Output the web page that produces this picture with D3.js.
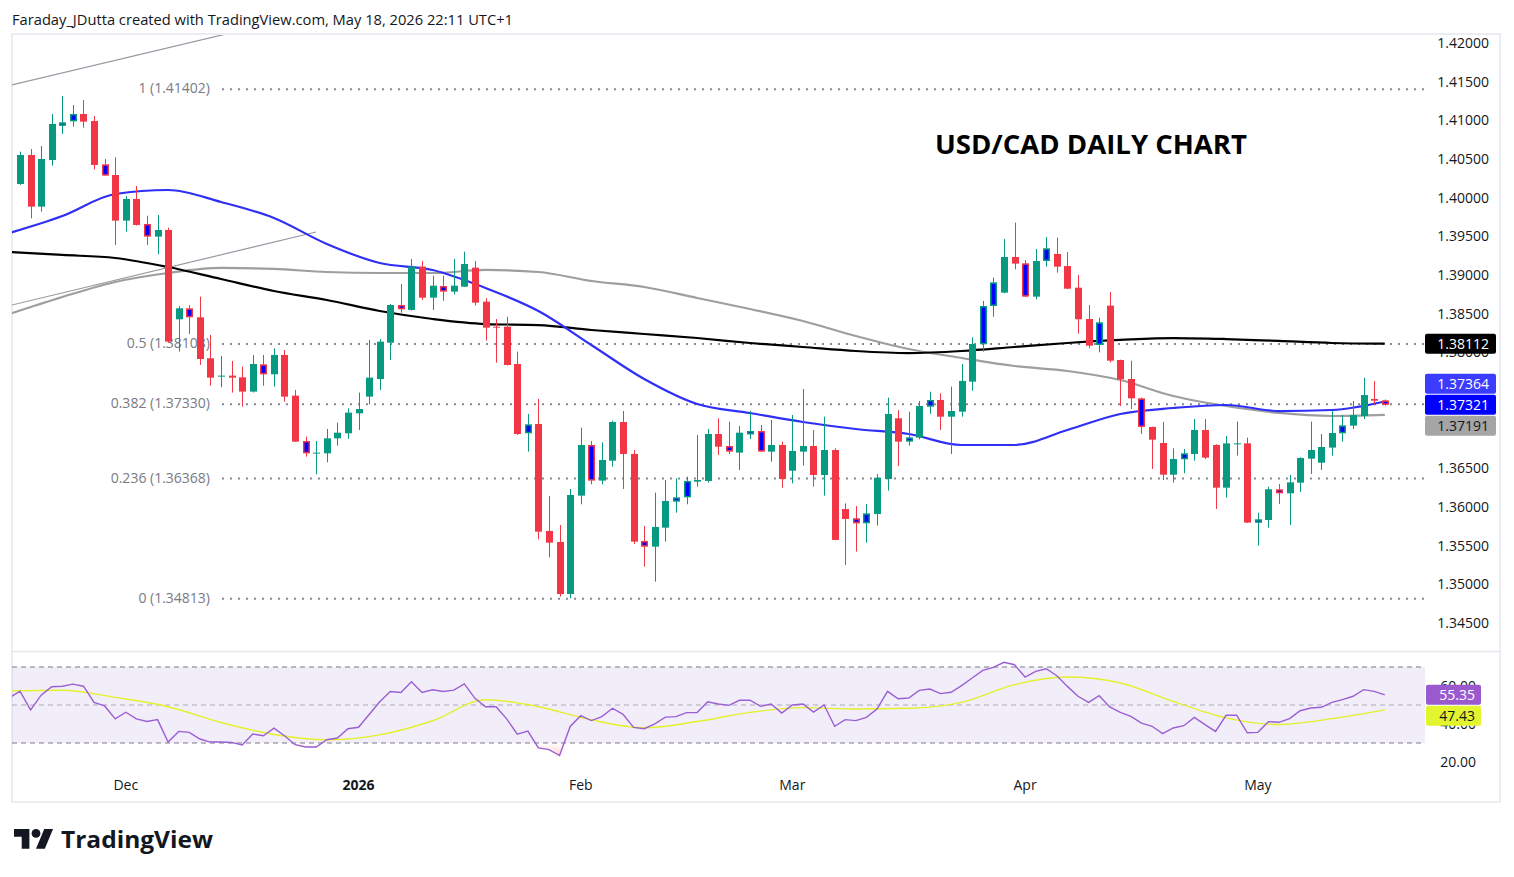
<!DOCTYPE html>
<html>
<head>
<meta charset="utf-8">
<script src="https://cdn.jsdelivr.net/npm/d3@7"></script>
<style>
  body { margin: 0; background: #fff; }
  text { font-family: "Open Sans", sans-serif; }
</style>
</head>
<body>
<div id="chart"></div>
<script>
// trading calendar (daily FX bars, weekends and two holidays missing)
var firstDay = "2025-11-14", lastDay = "2026-05-19";
var holidays = ["2025-12-25", "2026-01-01"];

// OHLC of the visible candles, one per trading day from 2025-11-17
var opens = [1.40177,1.40552,1.39884,1.40487,1.40948,1.40987,1.41082,1.40991,1.40431,1.40293,
  1.39703,1.39983,1.39660,1.39496,1.39582,1.38427,1.38569,1.38453,1.37923,1.37686,
  1.37699,1.37677,1.37492,1.37845,1.37716,1.37966,1.37440,1.36854,1.36694,1.36694,
  1.36888,1.36953,1.37211,1.37427,1.37655,1.38125,1.38612,1.38548,1.39108,1.38707,
  1.38858,1.38785,1.38849,1.39095,1.38655,1.38332,1.38332,1.37849,1.36953,1.37073,
  1.35690,1.35548,1.34875,1.36147,1.36802,1.36341,1.36599,1.37099,1.36686,1.35561,
  1.35487,1.35733,1.36069,1.36125,1.36328,1.36337,1.36944,1.36789,1.36703,1.36953,
  1.36983,1.36716,1.36802,1.36470,1.36716,1.36789,1.36414,1.36737,1.35974,1.35854,
  1.35789,1.35910,1.36362,1.37147,1.36845,1.36897,1.37297,1.37384,1.37168,1.37233,
  1.37621,1.38104,1.38599,1.38772,1.39233,1.39151,1.38720,1.39181,1.39272,1.39116,
  1.38836,1.38431,1.38095,1.38604,1.37901,1.37655,1.37405,1.37035,1.36828,1.36418,
  1.36617,1.36686,1.36996,1.36802,1.36250,1.36815,1.36823,1.35802,1.35832,1.36229,
  1.36177,1.36315,1.36625,1.36573,1.36768,1.36953,1.37052,1.37177,1.37397,1.37379];
var highs = [1.40595,1.40629,1.40668,1.41082,1.41315,1.41198,1.41263,1.41056,1.40500,1.40522,
  1.40022,1.40151,1.39767,1.39776,1.39612,1.38599,1.38612,1.38720,1.38224,1.37953,
  1.37888,1.37815,1.37966,1.37966,1.38052,1.38030,1.37513,1.36910,1.36854,1.37009,
  1.37091,1.37276,1.37479,1.38160,1.38173,1.38625,1.38884,1.39207,1.39181,1.38991,
  1.38991,1.39207,1.39302,1.39181,1.38700,1.38431,1.38461,1.38009,1.37203,1.37397,
  1.36142,1.35767,1.36233,1.37026,1.36854,1.36836,1.37117,1.37241,1.36737,1.35754,
  1.36186,1.36349,1.36371,1.36392,1.36931,1.37009,1.37147,1.37103,1.37047,1.37241,
  1.37060,1.37125,1.36845,1.37190,1.37526,1.36996,1.37168,1.36759,1.36047,1.36013,
  1.36039,1.36427,1.37414,1.37254,1.37233,1.37371,1.37491,1.37470,1.37556,1.37849,
  1.38194,1.38664,1.38966,1.39466,1.39677,1.39194,1.39336,1.39491,1.39483,1.39297,
  1.39000,1.38612,1.38448,1.38780,1.37905,1.37892,1.37414,1.37040,1.37099,1.36759,
  1.36750,1.37138,1.37138,1.36810,1.36918,1.37104,1.36897,1.35927,1.36263,1.36298,
  1.36414,1.36642,1.37104,1.36944,1.37246,1.37190,1.37371,1.37672,1.37629,1.37390];
var lows = [1.40164,1.39733,1.39819,1.40414,1.40823,1.40918,1.40905,1.40366,1.40280,1.39388,
  1.39561,1.39640,1.39388,1.39268,1.38130,1.38009,1.38237,1.37837,1.37569,1.37548,
  1.37479,1.37298,1.37480,1.37569,1.37556,1.37362,1.36840,1.36651,1.36423,1.36578,
  1.36793,1.36880,1.36996,1.37328,1.37513,1.37901,1.38513,1.38540,1.38677,1.38548,
  1.38668,1.38750,1.38845,1.38604,1.38151,1.37866,1.37830,1.36931,1.36716,1.35582,
  1.35349,1.34841,1.34819,1.36035,1.36293,1.36293,1.36522,1.36233,1.35522,1.35229,
  1.35035,1.35552,1.35927,1.36035,1.36263,1.36315,1.36673,1.36685,1.36478,1.36879,
  1.36710,1.36586,1.36250,1.36306,1.36534,1.36263,1.36147,1.35570,1.35250,1.35423,
  1.35539,1.35759,1.36211,1.36530,1.36793,1.36875,1.37203,1.36996,1.36685,1.37168,
  1.37505,1.38009,1.38461,1.38765,1.39073,1.38715,1.38685,1.39108,1.39030,1.38818,
  1.38241,1.38052,1.38000,1.37867,1.37306,1.37267,1.36944,1.36492,1.36349,1.36315,
  1.36436,1.36599,1.36621,1.35975,1.36121,1.36664,1.35793,1.35500,1.35733,1.36039,
  1.35768,1.36194,1.36427,1.36479,1.36664,1.36845,1.37009,1.37138,1.37332,1.37310];
var closes = [1.40552,1.39884,1.40500,1.40953,1.40974,1.41082,1.40983,1.40423,1.40285,1.39703,
  1.39983,1.39647,1.39496,1.39582,1.38138,1.38569,1.38453,1.37914,1.37673,1.37699,
  1.37673,1.37492,1.37849,1.37716,1.37966,1.37427,1.36845,1.36694,1.36703,1.36888,
  1.36961,1.37220,1.37267,1.37673,1.38138,1.38612,1.38556,1.39108,1.38707,1.38862,
  1.38785,1.38862,1.39142,1.38642,1.38319,1.38319,1.37836,1.36944,1.37069,1.35681,
  1.35539,1.34875,1.36155,1.36802,1.36341,1.36608,1.37099,1.36686,1.35552,1.35487,
  1.35742,1.36078,1.36125,1.36337,1.36349,1.36944,1.36780,1.36716,1.36961,1.36983,
  1.36716,1.36802,1.36362,1.36724,1.36789,1.36414,1.36737,1.35574,1.35845,1.35789,
  1.35918,1.36379,1.37203,1.36845,1.36901,1.37306,1.37384,1.37168,1.37241,1.37630,
  1.38108,1.38599,1.38905,1.39233,1.39147,1.38720,1.39181,1.39345,1.39108,1.38823,
  1.38427,1.38086,1.38388,1.37892,1.37651,1.37405,1.37035,1.36871,1.36418,1.36621,
  1.36694,1.36996,1.36638,1.36250,1.36823,1.36823,1.35798,1.35841,1.36229,1.36177,
  1.36319,1.36634,1.36737,1.36776,1.36957,1.37056,1.37190,1.37448,1.37375,1.37321];
// bar numbers (1 = first candle) painted with a blue body
var blueBodyBars = [5,6,9,13,17,24,28,37,41,49,55,60,63,64,68,70,71,80,81,85,87,92,93,96,98,103,107,111,118,120,126,130];

// RSI(14), one value per trading day from 2025-11-14
var rsiValues = [53.8,57.3,47.4,55.2,59.6,59.9,61.0,59.9,51.4,49.5,42.7,46.2,42.7,41.3,42.3,30.5,36.1,35.6,32.1,30.5,
  30.5,30.3,29.0,34.7,33.8,37.8,33.8,29.1,27.9,27.9,31.7,32.6,37.5,38.3,45.0,51.7,57.1,56.6,62.2,56.6,
  58.0,57.1,57.8,61.1,53.5,49.1,49.1,42.7,34.7,36.3,27.4,26.5,23.4,38.7,44.4,41.8,43.9,48.3,45.1,38.2,
  37.5,40.1,43.6,43.9,46.0,46.0,51.7,50.5,49.8,52.5,52.5,49.3,50.5,45.8,50.0,50.5,46.3,50.0,38.8,42.3,
  41.8,43.5,47.9,57.2,53.3,53.7,57.7,58.4,56.0,56.7,60.2,64.2,68.2,69.8,72.5,71.2,64.7,67.7,69.1,65.4,
  59.8,54.6,51.4,54.9,49.0,46.1,44.0,40.5,38.8,34.9,37.9,39.1,43.5,39.7,36.1,44.6,44.6,35.4,35.6,41.2,
  40.9,42.8,47.0,48.4,48.8,51.4,52.8,54.6,58.1,57.2,55.35];

// moving averages read every 5th bar (bar 0 = 2025-11-14)
var maBars = [0,5,10,15,20,25,30,35,40,45,50,55,60,65,70,75,80,85,90,95,100,105,110,115,120,125,130];
var sma50 = [1.39543,1.39763,1.40047,1.40099,1.39944,1.39737,1.39401,1.39155,1.39065,1.38832,1.38534,1.38095,1.37655,1.37332,
  1.37216,1.37099,1.37009,1.36944,1.36802,1.36802,1.36996,1.37203,1.37280,1.37319,1.37241,1.37254,1.37364];
var sma100 = [1.38496,1.38716,1.38910,1.39026,1.39091,1.39078,1.39039,1.39026,1.39026,1.39065,1.39039,1.38922,1.38845,1.38703,
  1.38560,1.38405,1.38211,1.38043,1.37927,1.37823,1.37759,1.37642,1.37435,1.37306,1.37216,1.37177,1.37191];
var sma200 = [1.39297,1.39259,1.39220,1.39103,1.38948,1.38793,1.38677,1.38534,1.38431,1.38366,1.38353,1.38289,1.38237,1.38185,
  1.38121,1.38069,1.38017,1.37991,1.38017,1.38069,1.38121,1.38160,1.38185,1.38172,1.38147,1.38121,1.38112];
var rsiMa = [57.5,57.8,54.0,49.1,40.8,34.5,31.7,34.3,41.7,52.8,49.1,42.2,38.0,41.3,46.1,48.6,47.9,48.3,51.4,60.7,
  64.7,61.6,51.9,43.2,39.7,42.8,47.43];

// fibonacci retracement
var fibLevels = ["1", "0.5", "0.382", "0.236", "0"];
var fibPrices = [1.41402, 1.38108, 1.37330, 1.36368, 1.34813];

// drawn trend lines: [bar position, price] end points
var trendLines = [
  [[-1.83, 1.41390], [21.79, 1.42159]],
  [[-1.83, 1.38544], [28.98, 1.39556]]
];

// axis ticks
var priceTicks = [1.345,1.35,1.355,1.36,1.365,1.37,1.375,1.38,1.385,1.39,1.395,1.40,1.405,1.41,1.415,1.42];
var rsiTicks = [20, 40, 60];
var rsiBands = [30, 50, 70];
var monthTickDays = ["2025-12-01","2026-01-02","2026-02-02","2026-03-02","2026-04-01","2026-05-01"];
var monthLabels = ["Dec","2026","Feb","Mar","Apr","May"];

// ---------------------------------------------------------------
var W = 1514, H = 877;
var plotL = 12, plotR = 1425, axisR = 1500;
var mainTop = 35, mainBot = 651, rsiTop = 652, rsiBot = 775, chartBot = 802;
var upCol = "#089981", downCol = "#F23645";
var boxH = 20, boxGap = 21;

var parse = d3.timeParse("%Y-%m-%d"), fmt = d3.timeFormat("%Y-%m-%d");
var dates = d3.timeDay.range(parse(firstDay), d3.timeDay.offset(parse(lastDay), 1))
  .filter(function (d) { return d.getDay() % 6 !== 0 && holidays.indexOf(fmt(d)) < 0; })
  .map(fmt);

var x = d3.scaleBand().domain(dates).range([4.13, 1390.1]);
var bw = x.bandwidth();
var xi = d3.scaleLinear().domain([0, dates.length - 1])
  .range([x(dates[0]) + bw / 2, x(dates[dates.length - 1]) + bw / 2]);
var y = d3.scaleLinear().domain([1.345, 1.42]).range([623, 43]);
var yr = d3.scaleLinear().domain([20, 70]).range([762, 667]);

var candles = opens.map(function (o, i) {
  return { date: dates[i + 1], o: o, h: highs[i], l: lows[i], c: closes[i],
           blue: blueBodyBars.indexOf(i + 1) >= 0 };
});
var colOf = function (d) { return d.c >= d.o ? upCol : downCol; };

var svg = d3.select("#chart").append("svg").attr("width", W).attr("height", H);
var defs = svg.append("defs");
defs.append("clipPath").attr("id", "clipMain").append("rect")
  .attr("x", plotL).attr("y", mainTop).attr("width", plotR - plotL).attr("height", mainBot - mainTop);
defs.append("clipPath").attr("id", "clipRsi").append("rect")
  .attr("x", plotL).attr("y", rsiTop).attr("width", plotR - plotL).attr("height", rsiBot - rsiTop);
defs.append("clipPath").attr("id", "clipLow").append("rect")
  .attr("x", plotL).attr("y", yr(30)).attr("width", plotR - plotL).attr("height", rsiBot - yr(30));
defs.append("clipPath").attr("id", "clipHigh").append("rect")
  .attr("x", plotL).attr("y", rsiTop).attr("width", plotR - plotL).attr("height", yr(70) - rsiTop);
var gLow = defs.append("linearGradient").attr("id", "gLow").attr("gradientUnits", "userSpaceOnUse")
  .attr("x1", 0).attr("x2", 0).attr("y1", yr(30)).attr("y2", yr(0));
gLow.append("stop").attr("offset", 0).attr("stop-color", downCol).attr("stop-opacity", 0);
gLow.append("stop").attr("offset", 1).attr("stop-color", downCol).attr("stop-opacity", 1);
var gHigh = defs.append("linearGradient").attr("id", "gHigh").attr("gradientUnits", "userSpaceOnUse")
  .attr("x1", 0).attr("x2", 0).attr("y1", yr(70)).attr("y2", yr(100));
gHigh.append("stop").attr("offset", 0).attr("stop-color", upCol).attr("stop-opacity", 0);
gHigh.append("stop").attr("offset", 1).attr("stop-color", upCol).attr("stop-opacity", 1);

// header
svg.append("text").attr("x", 12).attr("y", 25).attr("font-size", 14).attr("fill", "#131722")
  .attr("textLength", 501).attr("lengthAdjust", "spacingAndGlyphs")
  .text("Faraday_JDutta created with TradingView.com, May 18, 2026 22:11 UTC+1");

// frame
svg.append("rect").attr("x", plotL).attr("y", 34).attr("width", axisR - plotL).attr("height", chartBot - 34)
  .attr("fill", "none").attr("stroke", "#e6e8ee").attr("stroke-width", 1.5);
svg.append("line").attr("x1", plotL).attr("x2", axisR).attr("y1", mainBot + 0.5).attr("y2", mainBot + 0.5)
  .attr("stroke", "#e6e8ee").attr("stroke-width", 1.5);

// ---------------- main pane ----------------
var main = svg.append("g").attr("clip-path", "url(#clipMain)");

// fib levels
main.selectAll("line.fib").data(fibPrices).enter().append("line")
  .attr("x1", 222).attr("x2", plotR).attr("y1", function (d) { return y(d); }).attr("y2", function (d) { return y(d); })
  .attr("stroke", "#868993").attr("stroke-width", 2).attr("stroke-dasharray", "2,6");
main.selectAll("text.fib").data(fibPrices).enter().append("text")
  .attr("x", 210).attr("y", function (d) { return y(d); }).attr("dy", "0.3em")
  .attr("text-anchor", "end").attr("font-size", 14).attr("fill", "#787b86")
  .text(function (d, i) { return fibLevels[i] + " (" + d3.format(".5f")(d) + ")"; });

// trend lines
main.selectAll("line.trend").data(trendLines).enter().append("line")
  .attr("x1", function (d) { return xi(d[0][0]); }).attr("y1", function (d) { return y(d[0][1]); })
  .attr("x2", function (d) { return xi(d[1][0]); }).attr("y2", function (d) { return y(d[1][1]); })
  .attr("stroke", "#9598a1").attr("stroke-width", 1.2);

// moving averages
var maLine = d3.line().curve(d3.curveMonotoneX)
  .x(function (d, i) { return xi(maBars[i]); }).y(function (d) { return y(d); });
[[sma100, "#9e9e9e"], [sma200, "#000000"], [sma50, "#2f2ff5"]].forEach(function (m) {
  main.append("path").datum(m[0]).attr("d", maLine).attr("fill", "none")
    .attr("stroke", m[1]).attr("stroke-width", 2.2);
});

// candles
var cg = main.selectAll("g.candle").data(candles).enter().append("g");
var cx = function (d) { return Math.round(x(d.date) + bw / 2) + 0.5; };
cg.append("line")
  .attr("x1", cx).attr("x2", cx)
  .attr("y1", function (d) { return y(d.h); }).attr("y2", function (d) { return y(d.l); })
  .attr("stroke", colOf).attr("stroke-width", 1);
cg.append("rect")
  .attr("x", function (d) { return cx(d) - 3.5 + (d.blue ? 0.75 : 0); })
  .attr("y", function (d) { return y(Math.max(d.o, d.c)) + (d.blue ? 0.75 : 0); })
  .attr("width", function (d) { return d.blue ? 5.5 : 7; })
  .attr("height", function (d) {
    var h = Math.abs(y(d.o) - y(d.c));
    return d.blue ? Math.max(2, h - 1.5) : Math.max(1, h);
  })
  .attr("fill", function (d) { return d.blue ? "#0000ff" : colOf(d); })
  .attr("stroke", function (d) { return d.blue ? colOf(d) : "none"; })
  .attr("stroke-width", 1.5);

// title
svg.append("text").attr("x", 935).attr("y", 154).attr("font-size", 26).attr("font-weight", 700)
  .attr("fill", "#000").attr("textLength", 312).attr("lengthAdjust", "spacingAndGlyphs")
  .text("USD/CAD DAILY CHART");

// stack value labels so they do not overlap, the fixed one stays on its value
function stack(labels, scale, gap) {
  labels.forEach(function (l) { l.pos = scale(l.v); });
  var s = labels.slice().sort(function (a, b) { return a.pos - b.pos; });
  var fi = s.findIndex(function (l) { return l.fixed; });
  for (var i = fi - 1; i >= 0; i--) s[i].pos = Math.min(s[i].pos, s[i + 1].pos - gap);
  for (var j = fi + 1; j < s.length; j++) s[j].pos = Math.max(s[j].pos, s[j - 1].pos + gap);
  return labels;
}
// a tick text is hidden when the label boxes cover it completely
function covered(ty, labels) {
  for (var t = ty - 5; t <= ty + 5; t += 1) {
    var hit = labels.some(function (l) { return t >= l.pos - boxH / 2 - 0.6 && t <= l.pos + boxH / 2 + 0.6; });
    if (!hit) return false;
  }
  return true;
}

var last = maBars.length - 1;
var priceLabels = stack([
  { v: sma200[last], bg: "#000000", fg: "#ffffff" },
  { v: sma50[last], bg: "#3c3cff", fg: "#ffffff" },
  { v: closes[closes.length - 1], bg: "#0000ff", fg: "#ffffff", fixed: true },
  { v: sma100[last], bg: "#a5a5a5", fg: "#131722" }
], y, boxGap);

// price axis
svg.selectAll("text.pt").data(priceTicks.filter(function (d) { return !covered(y(d), priceLabels); }))
  .enter().append("text")
  .attr("x", 1489).attr("y", function (d) { return y(d); }).attr("dy", "0.35em")
  .attr("text-anchor", "end").attr("font-size", 14).attr("fill", "#131722")
  .text(d3.format(".5f"));

var pl = svg.selectAll("g.pl").data(priceLabels).enter().append("g");
pl.append("rect").attr("x", 1425).attr("width", 71).attr("height", boxH).attr("rx", 2)
  .attr("y", function (d) { return d.pos - boxH / 2; }).attr("fill", function (d) { return d.bg; });
pl.append("text").attr("x", 1489).attr("y", function (d) { return d.pos; }).attr("dy", "0.35em")
  .attr("text-anchor", "end").attr("font-size", 14).attr("fill", function (d) { return d.fg; })
  .text(function (d) { return d3.format(".5f")(d.v); });

// ---------------- RSI pane ----------------
var rsi = svg.append("g").attr("clip-path", "url(#clipRsi)");
rsi.append("rect").attr("x", plotL).attr("width", plotR - plotL)
  .attr("y", yr(70)).attr("height", yr(30) - yr(70)).attr("fill", "rgba(126,87,194,0.1)");
rsi.selectAll("line.band").data(rsiBands).enter().append("line")
  .attr("x1", plotL).attr("x2", plotR)
  .attr("y1", function (d) { return yr(d); }).attr("y2", function (d) { return yr(d); })
  .attr("stroke", function (d) { return d === 50 ? "#a9acb5" : "#787b86"; })
  .attr("stroke-dasharray", "5,4").attr("stroke-width", 1);

var rsiX = function (d, i) { return xi(i); };
rsi.append("path").datum(rsiValues).attr("clip-path", "url(#clipLow)")
  .attr("d", d3.area().x(rsiX).y0(yr(30)).y1(function (d) { return yr(d); }))
  .attr("fill", "url(#gLow)");
rsi.append("path").datum(rsiValues).attr("clip-path", "url(#clipHigh)")
  .attr("d", d3.area().x(rsiX).y0(yr(70)).y1(function (d) { return yr(d); }))
  .attr("fill", "url(#gHigh)");
rsi.append("path").datum(rsiMa)
  .attr("d", d3.line().curve(d3.curveMonotoneX)
    .x(function (d, i) { return xi(maBars[i]); }).y(function (d) { return yr(d); }))
  .attr("fill", "none").attr("stroke", "#e3f02c").attr("stroke-width", 1.4);
rsi.append("path").datum(rsiValues)
  .attr("d", d3.line().x(rsiX).y(function (d) { return yr(d); }))
  .attr("fill", "none").attr("stroke", "#9b5fd3").attr("stroke-width", 1.4);

var rsiLabels = stack([
  { v: rsiValues[rsiValues.length - 1], bg: "#9b59d0", fg: "#ffffff", fixed: true },
  { v: rsiMa[last], bg: "#e3f52e", fg: "#131722" }
], yr, boxGap);
svg.selectAll("text.rt").data(rsiTicks.filter(function (d) { return !covered(yr(d), rsiLabels); }))
  .enter().append("text")
  .attr("x", 1476).attr("y", function (d) { return yr(d); }).attr("dy", "0.35em")
  .attr("text-anchor", "end").attr("font-size", 14).attr("fill", "#131722")
  .text(d3.format(".2f"));
var rl = svg.selectAll("g.rl").data(rsiLabels).enter().append("g");
rl.append("rect").attr("x", 1426).attr("width", 55).attr("height", boxH).attr("rx", 2)
  .attr("y", function (d) { return d.pos - boxH / 2; }).attr("fill", function (d) { return d.bg; });
rl.append("text").attr("x", 1475).attr("y", function (d) { return d.pos; }).attr("dy", "0.35em")
  .attr("text-anchor", "end").attr("font-size", 14).attr("fill", function (d) { return d.fg; })
  .text(function (d) { return d3.format(".2f")(d.v); });

// ---------------- time axis ----------------
svg.selectAll("text.tt").data(monthTickDays).enter().append("text")
  .attr("x", function (d) { return x(d) + bw / 2; }).attr("y", 785).attr("dy", "0.35em")
  .attr("text-anchor", "middle").attr("font-size", 14).attr("fill", "#131722")
  .attr("font-weight", function (d, i) { return monthLabels[i] === "2026" ? 700 : 400; })
  .text(function (d, i) { return monthLabels[i]; });

// ---------------- logo ----------------
var logo = svg.append("g").attr("transform", "translate(14,824.6) scale(1.1)").attr("fill", "#131722");
logo.append("path").attr("d", "M14 22H7V11H0V4h14v18zM28 22h-8l7.5-18h8L28 22z");
logo.append("circle").attr("cx", 20).attr("cy", 8).attr("r", 4);
svg.append("text").attr("x", 61).attr("y", 848).attr("font-size", 24).attr("font-weight", 700)
  .attr("fill", "#131722").attr("textLength", 152).attr("lengthAdjust", "spacingAndGlyphs")
  .text("TradingView");
</script>
</body>
</html>
